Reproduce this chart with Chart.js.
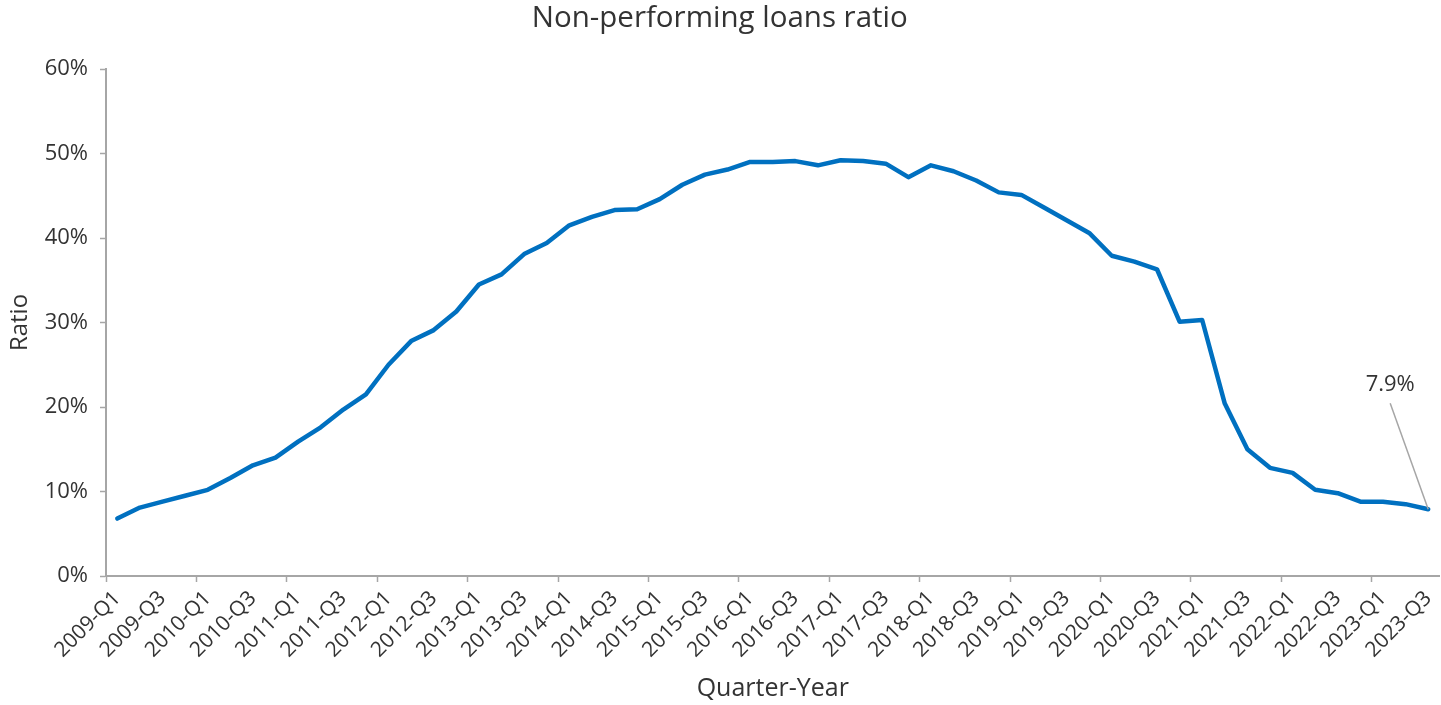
<!DOCTYPE html>
<html>
<head>
<meta charset="utf-8">
<script src="https://cdn.jsdelivr.net/npm/chart.js@4"></script>
<style>
  html, body { margin: 0; padding: 0; background: #fff; }
  #wrap { width: 1441px; height: 705px; }
</style>
</head>
<body>
<div id="wrap"><canvas id="chart"></canvas></div>
<script>
// categories: 2009-Q1 .. 2023-Q3
const years = [2009, 2010, 2011, 2012, 2013, 2014, 2015, 2016, 2017, 2018, 2019, 2020, 2021, 2022, 2023]
const quarters = ['Q1', 'Q2', 'Q3', 'Q4']
const lastLabel = '2023-Q3'

const quarterLabels = []
for (const y of years) {
  for (const q of quarters) {
    quarterLabels.push(y + '-' + q)
    if (y + '-' + q === lastLabel) break
  }
}

// NPL ratio, percent
const nplRatio = [
  6.8, 8.1, 8.8, 9.5, 10.2, 11.6, 13.1, 14.0,
  15.9, 17.6, 19.7, 21.5, 25.0, 27.8, 29.1, 31.3,
  34.5, 35.7, 38.1, 39.4, 41.5, 42.5, 43.3, 43.4,
  44.6, 46.3, 47.5, 48.1, 49.0, 49.0, 49.1, 48.6,
  49.2, 49.1, 48.8, 47.2, 48.6, 47.9, 46.8, 45.4,
  45.1, 43.6, 42.1, 40.6, 37.9, 37.2, 36.3, 30.1,
  30.3, 20.4, 15.0, 12.8, 12.2, 10.2, 9.8, 8.8,
  8.8, 8.5, 7.9
]

const yTicks = [0, 10, 20, 30, 40, 50, 60]

const FONT = '"Open Sans", "Noto Sans", sans-serif'
const TEXT = '#333333'
const AXIS = '#a6a6a6'
const LINE = '#0070c0'

// callout for the last value
const lastValueLabel = {
  id: 'lastValueLabel',
  afterDatasetsDraw(chart) {
    const meta = chart.getDatasetMeta(0)
    const i = meta.data.length - 1
    const pt = meta.data[i]
    const ctx = chart.ctx
    const lx = pt.x - 38
    const ly = pt.y - 106
    ctx.save()
    ctx.strokeStyle = AXIS
    ctx.lineWidth = 1.5
    ctx.beginPath()
    ctx.moveTo(lx, ly)
    ctx.lineTo(pt.x, pt.y)
    ctx.stroke()
    ctx.fillStyle = TEXT
    ctx.font = '22px ' + FONT
    ctx.textAlign = 'center'
    ctx.textBaseline = 'middle'
    ctx.fillText(nplRatio[i].toFixed(1) + '%', lx, ly - 19)
    ctx.restore()
  }
}

new Chart(document.getElementById('chart'), {
  type: 'line',
  data: {
    labels: quarterLabels,
    datasets: [{
      label: 'Non-performing loans ratio',
      data: nplRatio,
      borderColor: LINE,
      borderWidth: 4.5,
      borderCapStyle: 'round',
      borderJoinStyle: 'round',
      pointRadius: 0,
      tension: 0,
      fill: false
    }]
  },
  options: {
    responsive: true,
    maintainAspectRatio: false,
    animation: false,
    layout: { padding: { left: 0, right: 1.5, top: 0, bottom: 0 } },
    plugins: {
      legend: { display: false },
      tooltip: { enabled: false },
      title: {
        display: true,
        text: 'Non-performing loans ratio',
        color: TEXT,
        font: { family: FONT, size: 29.5, weight: 'normal' },
        padding: { top: 1, bottom: 32.6 }
      }
    },
    scales: {
      x: {
        type: 'category',
        offset: true,
        grid: {
          offset: true,
          drawOnChartArea: false,
          drawTicks: true,
          tickLength: 6,
          tickWidth: 1.5,
          tickColor: (c) => (c.index % 4 === 0 ? AXIS : 'rgba(0,0,0,0)')
        },
        border: { display: true, color: AXIS, width: 2 },
        ticks: {
          autoSkip: false,
          minRotation: 45,
          maxRotation: 45,
          padding: 4,
          color: TEXT,
          font: { family: FONT, size: 21 },
          callback: function (v, i) { return i % 2 === 0 ? this.getLabelForValue(v) : '' }
        },
        title: {
          display: true,
          text: 'Quarter-Year',
          color: TEXT,
          font: { family: FONT, size: 25 },
          padding: { top: 0, bottom: 1 }
        },
        afterFit: (s) => {
          s.height = 129
          s.paddingLeft = 0
          s.paddingRight = 0
        }
      },
      y: {
        min: 0,
        max: 60,
        afterBuildTicks: (s) => { s.ticks = yTicks.map(v => ({ value: v })) },
        grid: {
          drawOnChartArea: false,
          drawTicks: true,
          tickLength: 6,
          tickWidth: 1.5,
          tickColor: AXIS
        },
        border: { display: true, color: AXIS, width: 2 },
        ticks: {
          padding: 12,
          color: TEXT,
          font: { family: FONT, size: 22 },
          callback: (v) => v + '%'
        },
        title: {
          display: true,
          text: 'Ratio',
          color: TEXT,
          font: { family: FONT, size: 24 },
          padding: { top: 6, bottom: 0 }
        },
        afterFit: (s) => { s.width = 106 }
      }
    }
  },
  plugins: [lastValueLabel]
})
</script>
</body>
</html>
